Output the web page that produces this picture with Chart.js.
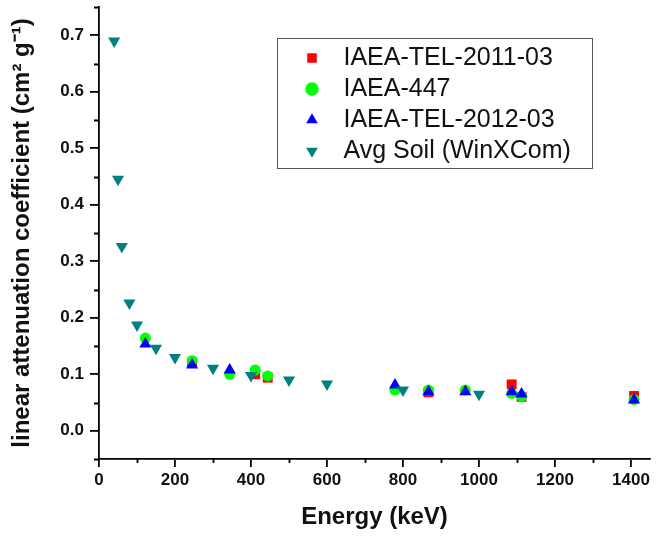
<!DOCTYPE html>
<html>
<head>
<meta charset="utf-8">
<script src="https://cdn.jsdelivr.net/npm/chart.js@4.4.1/dist/chart.umd.min.js"></script>
<style>
  html, body { margin: 0; padding: 0; background: #ffffff; }
  canvas { display: block; }
</style>
</head>
<body>
<canvas id="attenChart" width="657" height="537"></canvas>
<script>
// series names (legend order)
const seriesNames = ["IAEA-TEL-2011-03", "IAEA-447", "IAEA-TEL-2012-03", "Avg Soil (WinXCom)"];

// energies in keV, coefficients in cm2/g
const tel2011Energy = [245, 411, 444, 867, 1086, 1112, 1408];
const tel2011Mu     = [0.120, 0.100, 0.094, 0.068, 0.082, 0.060, 0.0615];

const iaea447Energy = [122, 245, 344, 411, 444, 779, 867, 964, 1086, 1112, 1408];
const iaea447Mu     = [0.164, 0.124, 0.100, 0.1075, 0.097, 0.072, 0.072, 0.072, 0.066, 0.061, 0.055];

const tel2012Energy = [122, 245, 344, 779, 867, 964, 1086, 1112, 1408];
const tel2012Mu     = [0.1535, 0.1165, 0.1075, 0.081, 0.069, 0.069, 0.069, 0.065, 0.0545];

const soilEnergy = [40, 50, 60, 80, 100, 150, 200, 300, 400, 500, 600, 800, 1000];
const soilMu     = [0.690, 0.445, 0.326, 0.226, 0.187, 0.146, 0.1295, 0.1105, 0.0976, 0.0898, 0.0827, 0.0721, 0.0645];

// tick labels shown on the axes
const xTickLabels = ["0", "200", "400", "600", "800", "1000", "1200", "1400"];
const yTickLabels = ["0.0", "0.1", "0.2", "0.3", "0.4", "0.5", "0.6", "0.7"];

const toPoints = (xs, ys) => xs.map((x, i) => ({ x: x, y: ys[i] }));

// legend frame (pixels)
const LEGEND_BOX = { left: 277, top: 38, right: 592, bottom: 168 };

const xLabel = (v) => {
    const s = String(Math.round(v));
    return xTickLabels.includes(s) ? s : "";
};
const yLabel = (v) => {
    const s = v.toFixed(1);
    return (Math.abs(v * 10 - Math.round(v * 10)) < 1e-6 && yTickLabels.includes(s)) ? s : "";
};

// short unlabeled ticks + legend frame
const axisExtras = {
    id: "axisExtras",
    beforeDraw(chart) {
        const lg = chart.legend;
        if (lg) {
            lg.left = LEGEND_BOX.left + 17;
            lg.top = LEGEND_BOX.top + 1.5;
        }
    },
    afterDraw(chart) {
        const ctx = chart.ctx;
        const xs = chart.scales.x, ys = chart.scales.y;
        ctx.save();
        ctx.strokeStyle = "#000";
        ctx.lineWidth = 1.8;
        ctx.beginPath();
        xs.ticks.forEach(t => {
            if (xLabel(t.value) === "") {
                const px = Math.round(xs.getPixelForValue(t.value)) + 0.5;
                ctx.moveTo(px, xs.top);
                ctx.lineTo(px, xs.top + 4);
            }
        });
        ys.ticks.forEach(t => {
            if (yLabel(t.value) === "") {
                const py = Math.round(ys.getPixelForValue(t.value)) + 0.5;
                ctx.moveTo(ys.right - 5, py);
                ctx.lineTo(ys.right, py);
            }
        });
        ctx.stroke();
        ctx.strokeStyle = "#555";
        ctx.lineWidth = 1;
        ctx.strokeRect(LEGEND_BOX.left + 0.5, LEGEND_BOX.top + 0.5,
            LEGEND_BOX.right - LEGEND_BOX.left, LEGEND_BOX.bottom - LEGEND_BOX.top);
        ctx.restore();
    }
};

const mkSet = (i, pts, style, r, color, order, rot) => ({
    label: seriesNames[i],
    data: pts,
    pointStyle: style,
    pointRadius: r,
    pointHoverRadius: r,
    pointRotation: rot || 0,
    backgroundColor: color,
    pointBackgroundColor: color,
    borderColor: color,
    borderWidth: 0,
    pointBorderWidth: 0,
    showLine: false,
    order: order
});

const FONT = "'Liberation Sans', Arial, sans-serif";

new Chart(document.getElementById("attenChart").getContext("2d"), {
    type: "scatter",
    data: {
        datasets: [
            mkSet(0, toPoints(tel2011Energy, tel2011Mu), "rect", 7, "#ff0000", 3),
            mkSet(1, toPoints(iaea447Energy, iaea447Mu), "circle", 5.5, "#00ff00", 2),
            mkSet(2, toPoints(tel2012Energy, tel2012Mu), "triangle", 7, "#0000ff", 1),
            mkSet(3, toPoints(soilEnergy, soilMu), "triangle", 7, "#008080", 0, 180)
        ]
    },
    options: {
        responsive: false,
        animation: false,
        layout: { padding: { top: 7, right: 2, bottom: 0, left: 0 } },
        plugins: {
            tooltip: { enabled: false },
            legend: {
                display: true,
                position: "chartArea",
                align: "start",
                labels: {
                    usePointStyle: true,
                    boxWidth: 24,
                    boxHeight: 9.5,
                    padding: 6,
                    color: "#111",
                    font: { family: FONT, size: 25 },
                    sort: (a, b) => a.datasetIndex - b.datasetIndex,
                    generateLabels: (chart) =>
                        Chart.defaults.plugins.legend.labels.generateLabels(chart)
                            .map(it => Object.assign(it, { text: " " + it.text }))
                }
            }
        },
        scales: {
            x: {
                type: "linear",
                min: 0,
                max: 1450,
                afterFit: (s) => { s.height = 78; s.paddingLeft = 0; s.paddingRight = 0; },
                border: { display: true, color: "#000", width: 1.8 },
                grid: {
                    drawOnChartArea: false,
                    drawTicks: true,
                    tickLength: 8,
                    lineWidth: 1.8,
                    tickWidth: 1.8,
                    tickColor: (c) => (c.tick && xLabel(c.tick.value) !== "") ? "#000" : "rgba(0,0,0,0)"
                },
                ticks: {
                    stepSize: 100,
                    includeBounds: false,
                    autoSkip: false,
                    maxRotation: 0,
                    padding: 3,
                    color: "#111",
                    font: { family: FONT, size: 17, weight: "bold" },
                    callback: (v) => xLabel(v)
                },
                title: {
                    display: true,
                    text: "Energy (keV)",
                    color: "#111",
                    font: { family: FONT, size: 24, weight: "bold" },
                    padding: { top: 4, bottom: 5 }
                }
            },
            y: {
                type: "linear",
                min: -0.05,
                max: 0.75,
                afterFit: (s) => { s.width = 99; s.paddingTop = 0; s.paddingBottom = 0; },
                border: { display: true, color: "#000", width: 1.8 },
                grid: {
                    drawOnChartArea: false,
                    drawTicks: true,
                    tickLength: 9,
                    lineWidth: 1.8,
                    tickWidth: 1.8,
                    tickColor: (c) => (c.tick && yLabel(c.tick.value) !== "") ? "#000" : "rgba(0,0,0,0)"
                },
                ticks: {
                    stepSize: 0.05,
                    autoSkip: false,
                    padding: 6,
                    color: "#111",
                    font: { family: FONT, size: 17, weight: "bold" },
                    callback: (v) => yLabel(v)
                },
                title: {
                    display: true,
                    text: "linear attenuation coefficient (cm² g⁻¹)",
                    color: "#111",
                    font: { family: FONT, size: 24, weight: "bold" },
                    padding: { top: 8, bottom: 0 }
                }
            }
        }
    },
    plugins: [axisExtras]
});
</script>
</body>
</html>
